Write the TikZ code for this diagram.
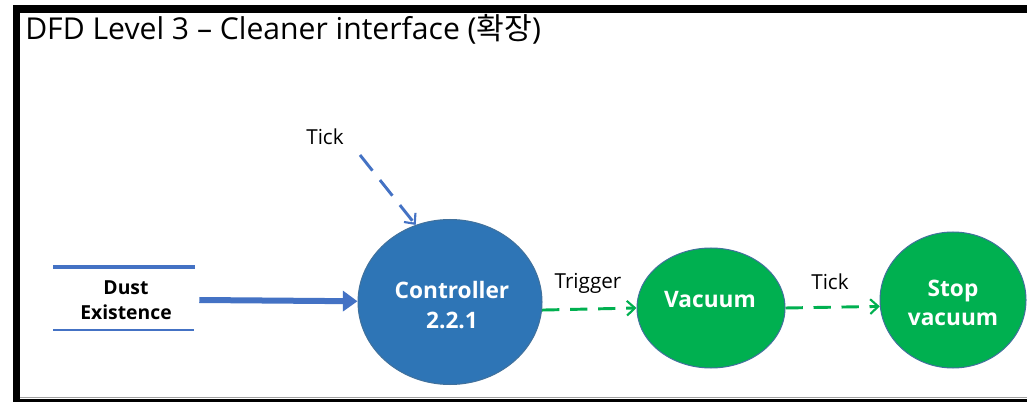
\documentclass[tikz,border=0pt]{standalone}
\usepackage{fontspec}
\setmainfont{Open Sans}
\newfontfamily\krfont{Noto Sans CJK KR}
\usetikzlibrary{arrows.meta,shapes.geometric}
\definecolor{procblue}{HTML}{2E75B6}
\definecolor{flowblue}{HTML}{4472C4}
\definecolor{procgreen}{HTML}{00B050}
\definecolor{rimblue}{HTML}{41719C}
\definecolor{rulegrey}{HTML}{A0A0A0}

\begin{document}
\begin{tikzpicture}[x=0.75pt,y=-0.75pt,
  proc/.style={ellipse, draw=rimblue, line width=0.75pt, inner sep=0pt},
  proctext/.style={text=white, font=\bfseries\fontsize{17}{22}\selectfont, align=center},
  flowlabel/.style={font=\fontsize{15.5}{18}\selectfont, inner sep=0pt},
  greenflow/.style={draw=procgreen, line width=2.2pt, dash pattern=on 13pt off 8pt,
    -{Straight Barb[length=6pt, width=11pt, line width=1.6pt]}},
  blueflow/.style={draw=flowblue, line width=2.2pt, dash pattern=on 15pt off 9pt,
    -{Straight Barb[length=6pt, width=11pt, line width=1.6pt]}},
]
\useasboundingbox (0,0) rectangle (1027,402);
\fill[white] (0,0) rectangle (1027,402);

% slide frame
\fill[black] (13,5) rectangle (1027,13);
\fill[black] (13,5) rectangle (20,402);
\draw[rulegrey, line width=0.9pt] (20,397.5) -- (1027,397.5);
\fill[black] (13,399) rectangle (1027,402);

% title
\node[anchor=base west, inner sep=0pt, font=\fontsize{22.6}{26}\selectfont]
  (title) at (25,40) {DFD Level 3 -- Cleaner interface ({\krfont 확장})};

% data store
\node[minimum width=146*0.75pt, minimum height=40pt, inner sep=0pt,
  font=\bfseries\fontsize{14.5}{19}\selectfont, align=center]
  (store) at (126,300) {Dust\\Existence};
\draw[flowblue, line width=3pt] (53,267) -- (195,267);
\draw[flowblue, line width=1.8pt] (53,330) -- (194,330);

% processes
\node[proc, fill=procblue, minimum width=184*0.75pt, minimum height=165*0.75pt]
  (ctrl) at (450,302) {};
\node[proctext] (ctrltext) at (452,305) {Controller\\2.2.1};

\node[proc, fill=procgreen, minimum width=148*0.75pt, minimum height=120*0.75pt]
  (vac) at (711,308) {};
\node[proctext] (vactext) at (710,300) {Vacuum};

\node[proc, fill=procgreen, minimum width=146*0.75pt, minimum height=136*0.75pt]
  (stop) at (953,300) {};
\node[proctext] (stoptext) at (953,303) {Stop\\vacuum};

% flows
\draw[flowblue, line width=4.5pt, -{Triangle[length=11pt, width=15pt]}]
  (store.east) -- (ctrl);

\node[flowlabel] (tick1) at (325,137) {Tick};
\coordinate (tickfrom) at (360,155);
\draw[blueflow] (tickfrom) -- (ctrl.114);

\node[flowlabel] (trig) at (588,283) {Trigger};
\draw[greenflow] (ctrl.-5) -- (vac.west);

\node[flowlabel] (tick2) at (830,282) {Tick};
\draw[greenflow] (vac.east) -- (stop.185);
\end{tikzpicture}
\end{document}
